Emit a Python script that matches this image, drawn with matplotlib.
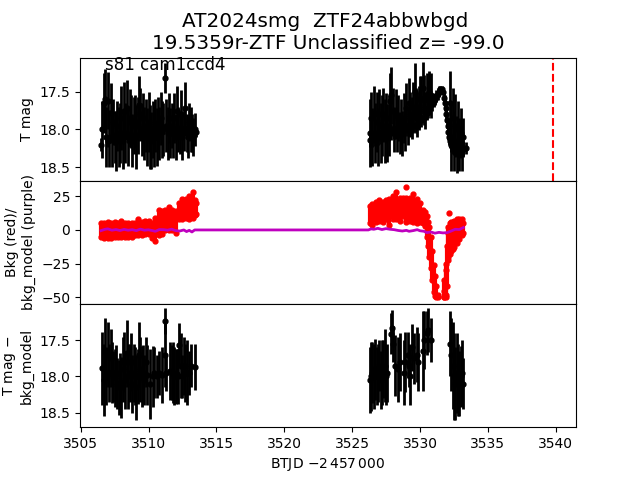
#!/usr/bin/env python3
"""TESS light curve panels for AT2024smg"""

import matplotlib
matplotlib.use("Agg")
import matplotlib.pyplot as plt

# top panel, noisy points
top_t = [3506.6, 3506.7, 3506.8, 3506.9, 3507.0, 3507.1, 3507.2, 3507.3, 3507.4, 3507.5, 3507.6, 3507.7, 3507.8, 3507.9,
         3508.0, 3508.1, 3508.2, 3508.3, 3508.4, 3508.5, 3508.6, 3508.7, 3508.8, 3508.9, 3509.0, 3509.1, 3509.2, 3509.3,
         3509.4, 3509.5, 3509.6, 3509.7, 3509.8, 3509.9, 3510.0, 3510.1, 3510.2, 3510.3, 3510.4, 3510.5, 3510.6, 3510.7,
         3510.8, 3510.9, 3511.0, 3511.1, 3511.2, 3511.3, 3511.4, 3511.5, 3511.6, 3511.7, 3511.8, 3511.9, 3512.0, 3512.1,
         3512.2, 3512.3, 3512.4, 3512.5, 3512.6, 3512.7, 3512.8, 3512.9, 3513.0, 3513.1, 3513.2, 3513.3, 3513.4,
         3526.3, 3526.4, 3526.5, 3526.6, 3526.7, 3526.8, 3526.9, 3527.0, 3527.1, 3527.2, 3527.3, 3527.4, 3527.5, 3527.6,
         3527.7, 3527.8, 3527.9, 3528.0, 3528.1, 3528.2, 3528.3, 3528.4, 3528.5, 3528.6, 3528.7, 3528.8, 3528.9, 3529.0,
         3529.1, 3529.2, 3529.3, 3529.4, 3529.5, 3529.6, 3529.7, 3529.8, 3529.9, 3530.0, 3530.1, 3530.2, 3530.3, 3530.4,
         3530.5, 3530.6, 3530.7, 3530.8,
         3532.2, 3532.3, 3532.4, 3532.5, 3532.6, 3532.7, 3532.8, 3532.9, 3533.0, 3533.1, 3533.2]
top_mag = [18.00, 17.65, 17.60, 18.10, 17.62, 18.12, 17.78, 18.10, 17.90, 18.10, 18.15, 17.95, 18.10, 18.05,
           17.85, 18.15, 17.75, 18.05, 17.72, 18.10, 17.85, 17.90, 18.15, 17.95, 17.90, 18.10, 17.95, 17.68,
           17.80, 18.00, 17.85, 18.05, 17.95, 18.10, 17.90, 18.10, 18.15, 18.00, 18.10, 17.95, 18.10, 17.92,
           18.05, 17.85, 18.00, 18.00, 17.32, 17.95, 18.05, 17.85, 18.05, 17.95, 18.05, 17.85, 18.10, 17.75,
           18.00, 18.05, 17.80, 18.10, 18.00, 17.72, 18.05, 18.10, 17.90, 18.00, 18.05, 18.10, 18.00,
           18.05, 17.85, 18.10, 17.78, 18.05, 17.90, 18.10, 17.80, 18.05, 17.95, 17.80, 18.02, 17.85, 18.05,
           17.95, 17.63, 17.55, 17.75, 18.00, 17.80, 18.00, 17.85, 18.05, 17.90, 18.05, 17.85, 18.00, 17.72,
           17.95, 17.65, 17.80, 17.85, 17.70, 17.50, 17.75, 17.80, 17.70, 17.60, 17.60, 17.45, 17.60, 17.75,
           17.55, 17.60, 17.50, 17.55,
           17.65, 18.10, 17.85, 18.15, 17.95, 18.20, 18.00, 18.20, 18.05, 18.25, 18.10]
top_err = [0.38, 0.40, 0.40, 0.40, 0.38, 0.38, 0.40, 0.40, 0.30, 0.35, 0.40, 0.33, 0.40, 0.40,
           0.42, 0.38, 0.38, 0.40, 0.38, 0.38, 0.38, 0.35, 0.35, 0.38, 0.35, 0.42, 0.38, 0.38,
           0.35, 0.35, 0.33, 0.35, 0.35, 0.38, 0.40, 0.42, 0.38, 0.38, 0.40, 0.35, 0.38, 0.35,
           0.35, 0.35, 0.38, 0.35, 0.20, 0.35, 0.35, 0.33, 0.33, 0.30, 0.33, 0.33, 0.30, 0.33,
           0.30, 0.28, 0.32, 0.30, 0.28, 0.35, 0.25, 0.28, 0.25, 0.30, 0.25, 0.25, 0.22,
           0.45, 0.35, 0.38, 0.35, 0.40, 0.40, 0.38, 0.33, 0.40, 0.40, 0.35, 0.42, 0.33, 0.38,
           0.40, 0.38, 0.38, 0.30, 0.30, 0.33, 0.30, 0.30, 0.28, 0.30, 0.30, 0.33, 0.28, 0.33,
           0.25, 0.33, 0.30, 0.28, 0.33, 0.38, 0.30, 0.30, 0.28, 0.30, 0.30, 0.34, 0.32, 0.25,
           0.30, 0.25, 0.27, 0.30,
           0.42, 0.45, 0.40, 0.40, 0.42, 0.38, 0.38, 0.35, 0.33, 0.30, 0.25]

# top panel, the bright low-error band
band_t = [3506.5, 3507.0, 3507.5, 3508.0, 3508.5, 3509.0, 3509.5, 3510.0, 3510.5, 3511.0, 3511.5, 3512.0, 3512.3,
          3512.5, 3512.7, 3512.9, 3513.1, 3513.3, 3513.5,
          3526.3, 3526.5, 3526.7, 3526.9, 3527.1, 3527.3, 3527.5, 3527.7, 3527.9, 3528.1, 3528.3, 3528.5, 3528.7,
          3528.9, 3529.1, 3529.3, 3529.5, 3529.7, 3529.9, 3530.1, 3530.3, 3530.5, 3530.7, 3530.9, 3531.0, 3531.1,
          3531.2, 3531.3, 3531.4, 3531.5, 3531.6, 3531.7, 3531.8, 3531.85, 3531.9, 3531.95, 3532.0, 3532.05, 3532.1,
          3532.15, 3532.2, 3532.3, 3532.4, 3532.5, 3532.6, 3532.8, 3533.0, 3533.2, 3533.4]
band_mag = [18.20, 18.15, 18.12, 18.10, 18.10, 18.08, 18.06, 18.05, 18.05, 18.03, 18.03, 18.03, 18.02,
            18.02, 18.01, 18.02, 18.02, 18.03, 18.04,
            18.14, 18.14, 18.13, 18.12, 18.10, 18.08, 18.07, 18.06, 18.05, 18.04, 18.03, 18.02, 18.01,
            18.00, 18.00, 17.98, 17.96, 17.94, 17.92, 17.88, 17.85, 17.78, 17.72, 17.66, 17.62, 17.60,
            17.56, 17.53, 17.50, 17.47, 17.47, 17.50, 17.58, 17.65, 17.72, 17.80, 17.88, 17.96, 18.04,
            18.10, 18.15, 18.20, 18.22, 18.24, 18.25, 18.25, 18.26, 18.26, 18.25]
band_err = [0.08, 0.08, 0.08, 0.08, 0.08, 0.08, 0.08, 0.08, 0.08, 0.08, 0.08, 0.08, 0.08,
            0.06, 0.06, 0.06, 0.06, 0.06, 0.06,
            0.09, 0.09, 0.09, 0.09, 0.09, 0.09, 0.09, 0.09, 0.09, 0.09, 0.09, 0.09, 0.09,
            0.09, 0.09, 0.09, 0.09, 0.09, 0.09, 0.09, 0.09, 0.09, 0.09, 0.09, 0.09, 0.08,
            0.08, 0.08, 0.07, 0.05, 0.05, 0.05, 0.08, 0.10, 0.10, 0.10, 0.10, 0.10, 0.10,
            0.10, 0.10, 0.10, 0.10, 0.10, 0.10, 0.10, 0.10, 0.10, 0.08]
event_t = 3539.78

# middle panel, spread of the background points per time step
bkg_t = [3506.5, 3506.75, 3507.0, 3507.25, 3507.5, 3507.75, 3508.0, 3508.25, 3508.5, 3508.75, 3509.0, 3509.25,
         3509.5, 3509.75, 3510.0, 3510.25, 3510.5, 3510.75, 3511.0, 3511.25, 3511.5, 3511.75, 3512.0, 3512.25,
         3512.5, 3512.75, 3513.0, 3513.25, 3513.4, 3513.5]
bkg_lo = [-5, -6, -6, -6, -5, -5, -5, -5, -5, -5, -4, -3.5,
          -3.5, -3, -3, -6, -8, -4, -3, 0, 0, 0, -2, 8,
          8, 9, 8, 9, 11, 12]
bkg_hi = [5, 5, 6, 5, 6, 5, 6.5, 5.5, 5.5, 5, 5, 8,
          6, 6.5, 7, 5, 9, 15, 14, 15, 17, 15, 14, 20,
          23, 23, 25, 28, 22, 20]
bkg2_t = [3526.3, 3526.5, 3526.75, 3527.0, 3527.25, 3527.5, 3527.75, 3528.0, 3528.25, 3528.5, 3528.75, 3529.0,
          3529.25, 3529.5, 3529.75, 3530.0, 3530.25, 3530.4, 3530.5, 3530.6, 3530.7, 3530.8, 3530.9, 3531.0,
          3531.1, 3531.2, 3531.3]
bkg2_lo = [5, 4, 6, 7, 6, 8, 4, 8, 8, 7, 10, 6,
           7, 6, 5, 6, 5, 3, -5, -12, -20, -28, -37, -46,
           -49, -49.5, -49.5]
bkg2_hi = [18, 19, 21, 22, 21, 22, 23, 25, 28, 24, 24, 24,
           24, 27, 23, 20, 15, 13, 10, 6, 2, -5, -16, -26,
           -34, -42, -48]
bkg3_t = [3531.75, 3531.8, 3531.9, 3531.95, 3532.0, 3532.05, 3532.1, 3532.2, 3532.3, 3532.4, 3532.5, 3532.7,
          3532.9, 3533.1, 3533.2]
bkg3_lo = [-49.5, -50, -50, -48, -42, -22, -20, -18, -16, -14, -12.5, -10, -7, -4, -2]
bkg3_hi = [-45, -37, -30, -25, -12, -2, 2, 5, 6, 6, 7, 8, 8, 8, 5]
outlier_t = [3528.95, 3532.15]
outlier_bkg = [32, 12.5]

# purple model line
model_t = [3506.5, 3506.8, 3507.0, 3507.3, 3507.6, 3507.9, 3508.2, 3508.5, 3508.8, 3509.1, 3509.4, 3509.7, 3510.0,
           3510.3, 3510.5, 3510.8, 3511.1, 3511.4, 3511.7, 3512.0, 3512.3, 3512.6, 3512.8, 3513.0, 3513.2, 3513.4,
           3513.6, 3520.0, 3526.2, 3526.4, 3526.6, 3526.9, 3527.2, 3527.5, 3527.8, 3528.1, 3528.4, 3528.7, 3529.0,
           3529.2, 3529.5, 3529.8, 3530.0, 3530.3, 3530.5, 3530.8, 3531.1, 3531.4, 3531.7, 3532.0, 3532.3, 3532.6,
           3532.9, 3533.2]
model_bkg = [-0.5, 0.5, 0.8, -0.2, 0.3, -0.4, 0.4, -0.2, 0.2, -0.5, 0.6, -0.2, 0.1,
             -0.5, -1.0, 0.3, 0.2, -0.2, 0.6, -0.5, -0.8, 0.0, -1.2, -0.3, -1.5, 0.0,
             0.0, 0.0, 0.0, 0.8, 0.5, 1.2, 0.3, 1.0, 0.5, 0.2, -0.4, -0.8, -0.3,
             -1.0, -0.5, 0.2, -0.6, -1.0, -2.0, -1.5, -2.4, -1.8, -2.2, -2.0, -0.8, 0.5,
             0.3, 1.8]

# bottom panel, after subtracting the model
sub_t = [3506.6, 3506.7, 3506.8, 3506.9, 3507.0, 3507.1, 3507.2, 3507.3, 3507.4, 3507.5, 3507.6, 3507.7, 3507.8, 3507.9,
         3508.0, 3508.1, 3508.2, 3508.3, 3508.4, 3508.5, 3508.6, 3508.7, 3508.8, 3508.9, 3509.0, 3509.1, 3509.2, 3509.3,
         3509.4, 3509.5, 3509.6, 3509.7, 3509.8, 3509.9, 3510.1, 3510.3, 3510.4, 3510.6, 3510.8, 3511.0, 3511.2, 3511.23,
         3511.3, 3511.6, 3511.7, 3511.8, 3511.9, 3512.0, 3512.1, 3512.2, 3512.25, 3512.4, 3512.5, 3512.6, 3512.7, 3512.8,
         3513.0, 3513.1, 3513.4,
         3526.3, 3526.4, 3526.5, 3526.6, 3526.7, 3526.8, 3526.9, 3527.0, 3527.1, 3527.2, 3527.3, 3527.4, 3527.5, 3527.6,
         3527.85, 3527.95, 3528.05, 3528.15, 3528.4, 3528.5, 3528.8, 3528.9, 3529.1, 3529.2, 3529.3, 3529.45, 3529.55,
         3529.75, 3529.85, 3530.2, 3530.3, 3530.5, 3530.6, 3530.8,
         3532.2, 3532.3, 3532.4, 3532.5, 3532.6, 3532.7, 3532.8, 3532.9, 3533.0, 3533.1, 3533.2]
sub_mag = [17.89, 18.05, 17.65, 18.00, 17.70, 17.95, 17.75, 17.95, 18.00, 18.02, 17.95, 18.10, 18.15, 18.10,
           18.15, 17.90, 17.80, 18.05, 17.68, 18.00, 17.95, 17.80, 18.10, 17.95, 18.00, 18.15, 18.00, 17.70,
           17.90, 18.00, 17.95, 18.05, 17.80, 17.98, 18.10, 18.00, 17.95, 18.00, 17.95, 17.98, 17.24, 17.70,
           17.95, 17.93, 17.95, 17.95, 18.00, 18.00, 17.97, 18.00, 17.56, 17.85, 18.00, 17.85, 17.95, 17.95,
           17.95, 17.85, 17.87,
           18.05, 18.00, 17.95, 18.00, 17.90, 18.00, 17.95, 17.85, 18.05, 17.95, 17.90, 17.85, 18.00, 17.95,
           17.41, 17.33, 17.55, 17.85, 17.90, 17.80, 17.95, 17.80, 17.70, 17.85, 18.00, 17.60, 17.75,
           17.70, 17.80, 17.65, 17.50, 17.40, 17.36, 17.50,
           17.55, 17.70, 17.85, 18.00, 18.10, 17.95, 18.05, 18.10, 18.00, 17.95, 18.10]
sub_err = [0.50, 0.50, 0.46, 0.40, 0.45, 0.40, 0.40, 0.42, 0.35, 0.40, 0.38, 0.35, 0.38, 0.42,
           0.42, 0.45, 0.42, 0.40, 0.46, 0.45, 0.40, 0.40, 0.40, 0.40, 0.40, 0.45, 0.38, 0.45,
           0.45, 0.42, 0.38, 0.35, 0.35, 0.42, 0.48, 0.42, 0.35, 0.30, 0.30, 0.38, 0.18, 0.45,
           0.25, 0.40, 0.38, 0.42, 0.40, 0.38, 0.35, 0.38, 0.30, 0.45, 0.30, 0.40, 0.40, 0.45,
           0.30, 0.30, 0.32,
           0.45, 0.48, 0.42, 0.45, 0.42, 0.40, 0.40, 0.35, 0.40, 0.45, 0.40, 0.50, 0.40, 0.40,
           0.28, 0.25, 0.25, 0.42, 0.45, 0.40, 0.45, 0.42, 0.32, 0.30, 0.40, 0.32, 0.35,
           0.38, 0.40, 0.55, 0.40, 0.30, 0.30, 0.30,
           0.45, 0.50, 0.60, 0.60, 0.50, 0.55, 0.50, 0.45, 0.42, 0.45, 0.35]

title_text = "AT2024smg  ZTF24abbwbgd \n19.5359r-ZTF Unclassified z= -99.0"
sector_text = "s81 cam1ccd4"

fig, (ax1, ax2, ax3) = plt.subplots(3, 1, sharex=True)
plt.subplots_adjust(hspace=0)

ax1.errorbar(top_t, top_mag, yerr=top_err, fmt='.', color='k', ms=7, elinewidth=2)
ax1.errorbar(band_t, band_mag, yerr=band_err, fmt='.', color='k', ms=7, elinewidth=2)
ax1.axvline(event_t, color='r', linestyle='--')
ax1.set_ylim(18.68, 17.05)
ax1.set_yticks([17.5, 18.0, 18.5])
ax1.set_ylabel("T mag")
ax1.set_title(title_text, fontsize=14.4)
ax1.text(3506.82, 17.21, sector_text, fontsize=12)

for t, lo, hi in [(bkg_t, bkg_lo, bkg_hi), (bkg2_t, bkg2_lo, bkg2_hi), (bkg3_t, bkg3_lo, bkg3_hi)]:
    ax2.vlines(t, lo, hi, color='r', linewidth=3)
    ax2.plot(t, lo, 'r.', ms=7)
    ax2.plot(t, hi, 'r.', ms=7)
ax2.plot(outlier_t, outlier_bkg, 'r.', ms=7)
ax2.plot(model_t, model_bkg, color='m', linewidth=2)
ax2.set_ylim(-55, 36.5)
ax2.set_yticks([-50, -25, 0, 25])
ax2.set_ylabel("Bkg (red)/\nbkg_model (purple)")

ax3.errorbar(sub_t, sub_mag, yerr=sub_err, fmt='.', color='k', ms=7, elinewidth=2)
ax3.set_ylim(18.7, 17.0)
ax3.set_yticks([17.5, 18.0, 18.5])
ax3.set_ylabel("T mag $-$\nbkg_model")
ax3.set_xlabel(r"BTJD $- 2\,457\,000$")
ax3.set_xlim(3504.95, 3541.5)

plt.savefig('out.png', dpi=100)
